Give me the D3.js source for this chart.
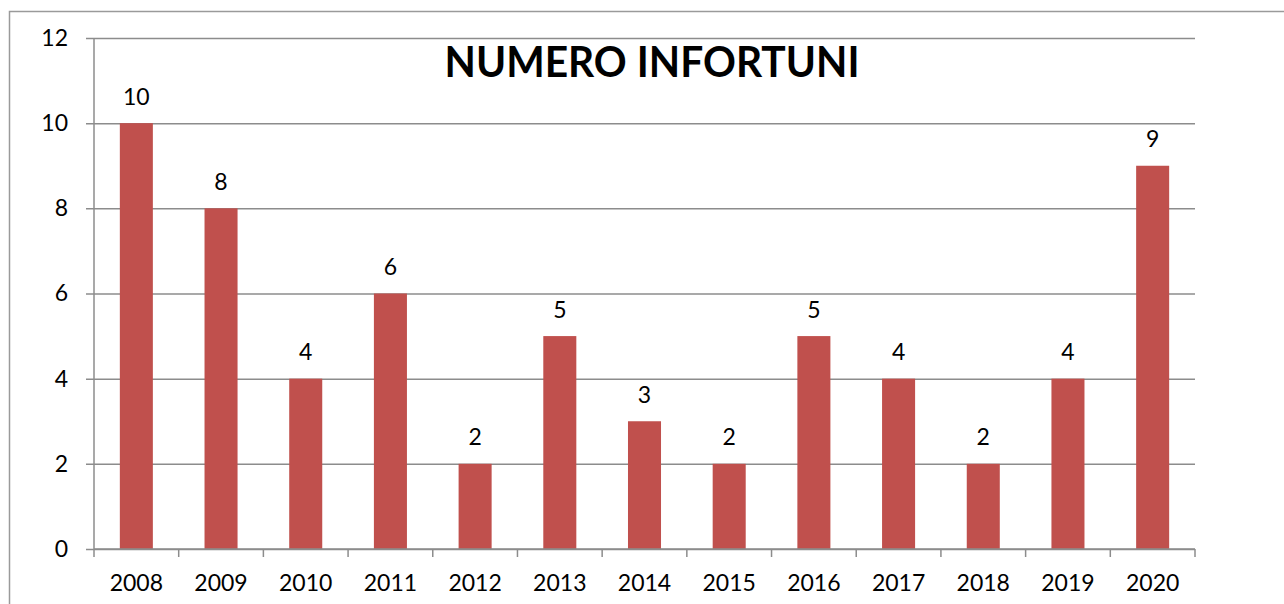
<!DOCTYPE html>
<html>
<head>
<meta charset="utf-8">
<title>Numero infortuni</title>
<script src="https://d3js.org/d3.v7.min.js"></script>
<style>
    body { margin: 0; padding: 0; background: #fff; }
    svg { display: block; }
    text { font-family: Lato, "Open Sans", sans-serif; fill: #000; }
</style>
</head>
<body>
<div id="chart"></div>
<script>
    // data
    const years = ["2008", "2009", "2010", "2011", "2012", "2013", "2014",
                   "2015", "2016", "2017", "2018", "2019", "2020"];
    const infortuni = [10, 8, 4, 6, 2, 5, 3, 2, 5, 4, 2, 4, 9];
    const yTicks = [0, 2, 4, 6, 8, 10, 12];
    const title = "NUMERO INFORTUNI";

    const width = 1284, height = 604;
    const margin = { left: 94, right: 89, top: 38, bottom: 55 };

    const svg = d3.select("#chart").append("svg")
        .attr("width", width)
        .attr("height", height);

    // outer chart frame (right and bottom sit outside the picture)
    svg.append("rect")
        .attr("x", 9.5).attr("y", 11.5)
        .attr("width", 1400).attr("height", 700)
        .attr("fill", "none")
        .attr("stroke", "#9a9a9a")
        .attr("stroke-width", 1.5);

    const x = d3.scaleBand()
        .domain(years)
        .range([margin.left, width - margin.right])
        .paddingInner(0.61)
        .paddingOuter(0.305);

    const y = d3.scaleLinear()
        .domain([0, 12])
        .range([height - margin.bottom, margin.top]);

    // gridlines + y axis
    const yAxis = d3.axisLeft(y)
        .tickValues(yTicks)
        .tickSize(-(width - margin.right - margin.left))
        .tickPadding(26)
        .tickSizeOuter(0);

    const gy = svg.append("g")
        .attr("transform", "translate(" + margin.left + ",0)")
        .call(yAxis);
    gy.select(".domain").remove();
    gy.selectAll(".tick line")
        .attr("x1", -8)
        .attr("stroke", "#8c8c8c")
        .attr("stroke-width", 1.5);
    gy.selectAll(".tick text")
        .style("font-family", "Lato, 'Open Sans', sans-serif")
        .style("font-size", "23px")
        .attr("fill", "#000");

    // y axis line
    svg.append("line")
        .attr("x1", margin.left).attr("x2", margin.left)
        .attr("y1", y(12)).attr("y2", y(0))
        .attr("stroke", "#8c8c8c")
        .attr("stroke-width", 1.5);

    // bars
    svg.append("g").selectAll("rect")
        .data(years)
        .join("rect")
        .attr("x", d => x(d))
        .attr("width", x.bandwidth())
        .attr("y", (d, i) => y(infortuni[i]))
        .attr("height", (d, i) => y(0) - y(infortuni[i]))
        .attr("fill", "#c0504d");

    // data labels
    svg.append("g").selectAll("text")
        .data(years)
        .join("text")
        .attr("x", d => x(d) + x.bandwidth() / 2)
        .attr("y", (d, i) => y(infortuni[i]) - 18.5)
        .attr("text-anchor", "middle")
        .style("font-size", "23px")
        .text((d, i) => infortuni[i]);

    // x axis with ticks between categories
    const xAxisLine = svg.append("g");
    const x0 = margin.left, x1 = width - margin.right, yb = y(0);
    xAxisLine.append("line")
        .attr("x1", x0).attr("x2", x1)
        .attr("y1", yb).attr("y2", yb)
        .attr("stroke", "#8c8c8c")
        .attr("stroke-width", 1.5);
    const bounds = years.map(d => x(d) - x.step() * x.paddingInner() / 2).concat([x1]);
    xAxisLine.selectAll("line.tk")
        .data(bounds)
        .join("line")
        .attr("class", "tk")
        .attr("x1", d => d).attr("x2", d => d)
        .attr("y1", yb).attr("y2", yb + 8)
        .attr("stroke", "#8c8c8c")
        .attr("stroke-width", 1.5);
    xAxisLine.selectAll("text")
        .data(years)
        .join("text")
        .attr("x", d => x(d) + x.bandwidth() / 2)
        .attr("y", 591)
        .attr("text-anchor", "middle")
        .style("font-size", "23px")
        .text(d => d);

    // title
    svg.append("text")
        .attr("x", 652)
        .attr("y", 77)
        .attr("text-anchor", "middle")
        .attr("textLength", 415)
        .attr("lengthAdjust", "spacingAndGlyphs")
        .style("font-size", "42px")
        .style("font-weight", "bold")
        .text(title);
</script>
</body>
</html>
